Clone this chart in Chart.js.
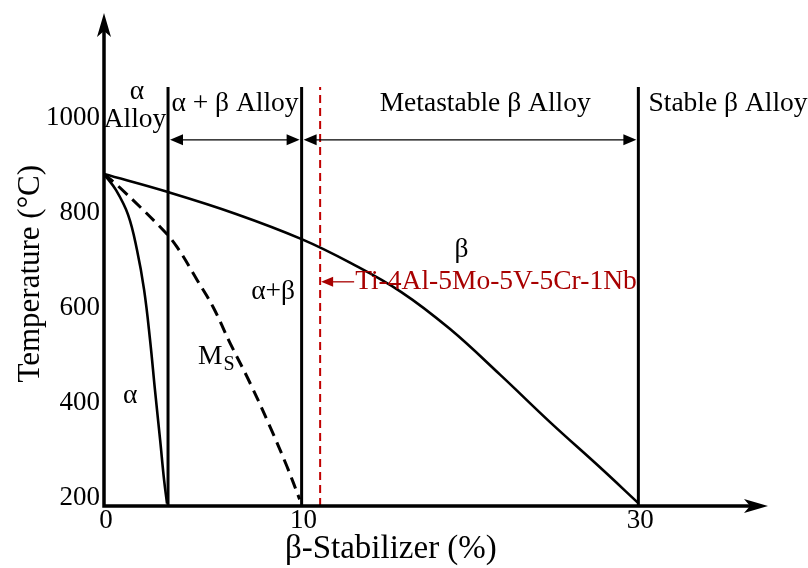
<!DOCTYPE html>
<html>
<head>
<meta charset="utf-8">
<script src="https://cdn.jsdelivr.net/npm/chart.js@4.4.0/dist/chart.umd.min.js"></script>
<style>
  html, body { margin: 0; padding: 0; background: #fff; }
</style>
</head>
<body>
<canvas id="myChart" width="808" height="568"></canvas>
<script>
// values: x in % beta stabilizer, y in deg C
var xTicks = [0, 10, 30];
var yTicks = [200, 400, 600, 800, 1000];

// beta transus
var transusX = [0, 3.24, 6.68, 10, 12.9, 15.9, 18.8, 21.8, 24.8, 27.7, 30];
var transusY = [880, 842, 796, 743, 693, 632, 554, 457, 356, 263, 187];

// alpha / alpha+beta boundary
var alphaX = [0, 0.61, 1.22, 1.67, 2.03, 2.33, 2.58, 2.84, 3.04, 3.19];
var alphaY = [880, 846, 794, 720, 636, 531, 425, 320, 236, 186];

// martensite start (dashed)
var msX = [0, 0.81, 2.99, 3.7, 4.71, 5.52, 6.38, 7.39, 8.41, 9.27, 9.9];
var msY = [880, 851, 762, 726, 657, 600, 524, 440, 347, 263, 195];

// alloy class boundaries and the studied alloy
var boundaryX = [3.24, 10, 30];
var boundaryTop = 1063;
var alloyX = 11.1;
var alloyName = "Ti-4Al-5Mo-5V-5Cr-1Nb";

// the drawing is not to scale: beyond 10 % the axis is squeezed
var xSqueeze = 0.852;
function axisX(p) {
  return p <= 10 ? p : 10 + (p - 10) * xSqueeze;
}
function pts(xs, ys) {
  return xs.map(function(x, i) { return {x: axisX(x), y: ys[i]}; });
}

var yMin = 181, yMax = 1219;
var serif = '"Liberation Serif", "Times New Roman", serif';

var datasets = [
  { data: pts(transusX, transusY), borderColor: '#000', borderWidth: 2.6, tension: 0.4 },
  { data: pts(alphaX, alphaY), borderColor: '#000', borderWidth: 2.6, tension: 0.4 },
  { data: pts(msX, msY), borderColor: '#000', borderWidth: 3, borderDash: [12, 7], tension: 0.4 }
];
boundaryX.forEach(function(b) {
  datasets.push({ data: pts([b, b], [yMin, boundaryTop]), borderColor: '#000', borderWidth: 3, tension: 0 });
});
datasets.push({ data: pts([alloyX, alloyX], [yMin, boundaryTop]), borderColor: '#C00000', borderWidth: 2, borderDash: [8, 5], tension: 0 });

function triangle(ctx, tx, ty, dx, len, half) {
  ctx.beginPath();
  ctx.moveTo(tx, ty);
  ctx.lineTo(tx + dx * len, ty - half);
  ctx.lineTo(tx + dx * len, ty + half);
  ctx.closePath();
  ctx.fill();
}

var drawPlugin = {
  id: 'phaseDiagram',
  afterDatasetsDraw: function(chart) {
    var ctx = chart.ctx, xs = chart.scales.x, ys = chart.scales.y, area = chart.chartArea;
    function px(p) { return xs.getPixelForValue(axisX(p)); }
    function py(t) { return ys.getPixelForValue(t); }
    ctx.save();

    // axes with arrows
    ctx.strokeStyle = '#000';
    ctx.fillStyle = '#000';
    ctx.lineWidth = 3.5;
    ctx.beginPath();
    ctx.moveTo(area.left, area.top + 15);
    ctx.lineTo(area.left, area.bottom);
    ctx.lineTo(area.right - 15, area.bottom);
    ctx.stroke();
    ctx.beginPath();
    ctx.moveTo(area.left, area.top);
    ctx.lineTo(area.left - 7, area.top + 24);
    ctx.lineTo(area.left, area.top + 18);
    ctx.lineTo(area.left + 7, area.top + 24);
    ctx.closePath();
    ctx.fill();
    ctx.beginPath();
    ctx.moveTo(area.right, area.bottom);
    ctx.lineTo(area.right - 24, area.bottom - 7);
    ctx.lineTo(area.right - 18, area.bottom);
    ctx.lineTo(area.right - 24, area.bottom + 7);
    ctx.closePath();
    ctx.fill();

    // tick labels
    ctx.font = '27px ' + serif;
    ctx.textBaseline = 'middle';
    ctx.textAlign = 'right';
    yTicks.forEach(function(v) { ctx.fillText(String(v), area.left - 4, py(v) + 1); });
    ctx.textAlign = 'center';
    xTicks.forEach(function(v) { ctx.fillText(String(v), px(v) + 2, area.bottom + 15); });

    // axis titles
    ctx.font = '33px ' + serif;
    ctx.fillText('\u03b2-Stabilizer (%)', px(15.3), area.bottom + 43);
    ctx.font = '31px ' + serif;
    ctx.save();
    ctx.translate(area.left - 73, py(670));
    ctx.rotate(-Math.PI / 2);
    ctx.fillText('Temperature (\u00b0C)', 0, 0);
    ctx.restore();

    // dimension arrows between boundaries
    var ay = py(952);
    ctx.lineWidth = 1.3;
    for (var i = 0; i < boundaryX.length - 1; i++) {
      var a = px(boundaryX[i]) + 2, b = px(boundaryX[i + 1]) - 2;
      ctx.beginPath();
      ctx.moveTo(a + 8, ay);
      ctx.lineTo(b - 8, ay);
      ctx.stroke();
      triangle(ctx, a, ay, 1, 13, 5.5);
      triangle(ctx, b, ay, -1, 13, 5.5);
    }

    // region labels
    ctx.font = '27.5px ' + serif;
    ctx.textAlign = 'center';
    ctx.fillText('\u03b1', px(1.67), py(1053));
    ctx.fillText('Alloy', px(1.57), py(994));
    ctx.fillText('\u03b1 + \u03b2 Alloy', px(6.63), py(1027));
    ctx.fillText('Metastable \u03b2 Alloy', px(20.9), py(1027));
    ctx.textAlign = 'left';
    ctx.fillText('Stable \u03b2 Alloy', px(30.6), py(1027));
    ctx.textAlign = 'center';
    ctx.fillText('\u03b2', px(19.5), py(720));
    ctx.fillText('\u03b1+\u03b2', px(8.56), py(632));
    ctx.fillText('\u03b1', px(1.32), py(413));
    ctx.fillText('M', px(5.37), py(495));
    ctx.font = '20px ' + serif;
    ctx.fillText('S', px(5.37) + 19, py(495) + 8);

    // studied alloy marker
    var rx = px(alloyX) + 1, ry = py(653);
    ctx.strokeStyle = '#A80000';
    ctx.fillStyle = '#A80000';
    ctx.lineWidth = 1.3;
    ctx.beginPath();
    ctx.moveTo(rx + 8, ry);
    ctx.lineTo(rx + 33, ry);
    ctx.stroke();
    triangle(ctx, rx, ry, 1, 12, 5);
    ctx.font = '27.5px ' + serif;
    ctx.textAlign = 'left';
    ctx.fillText(alloyName, rx + 34, ry);

    ctx.restore();
  }
};

var chart = new Chart(document.getElementById('myChart'), {
  type: 'line',
  data: { datasets: datasets },
  options: {
    responsive: false,
    animation: false,
    devicePixelRatio: 1,
    layout: { padding: { left: 104, right: 40, top: 13, bottom: 62 } },
    elements: { point: { radius: 0 } },
    plugins: { legend: { display: false }, tooltip: { enabled: false } },
    scales: {
      x: { type: 'linear', display: false, min: 0, max: 33.6 },
      y: { type: 'linear', display: false, min: yMin, max: yMax }
    }
  },
  plugins: [drawPlugin]
});
</script>
</body>
</html>
